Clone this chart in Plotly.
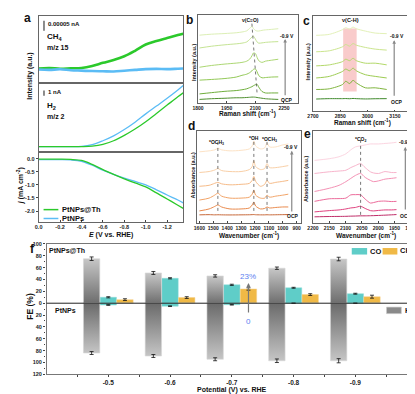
import plotly.graph_objects as go

W, H = 415, 394
FONT = "Liberation Sans, Arial, sans-serif"

# ---------------- Panel a : MS signals and LSV ----------------
E_V = [0.0, -0.1, -0.2, -0.3, -0.4, -0.5, -0.6, -0.7, -0.8, -0.9, -1.0, -1.1, -1.2, -1.3, -1.35]
ms_ch4_th = [7.3, 7.5, 7.2, 7.4, 7.6, 8.6, 10.2, 11.6, 13.5, 16.3, 19.5, 21.3, 22.8, 24.3, 25.0]
ms_ch4_pt = [6.8, 6.6, 6.9, 6.4, 6.2, 6.0, 5.9, 5.8, 6.2, 6.6, 7.0, 7.1, 7.0, 7.2, 7.3]
ms_h2_th = [0, 0, 0, 0, 0, 0.08, 0.45, 1.2, 2.3, 3.6, 5.1, 6.8, 8.5, 10.2, 11.0]
ms_h2_pt = [0, 0, 0, 0, 0.05, 0.4, 1.2, 2.2, 3.5, 5.0, 6.7, 8.3, 9.9, 11.6, 12.5]
j_th = [-0.02, -0.02, -0.02, -0.03, -0.07, -0.22, -0.42, -0.60, -0.77, -0.93, -1.08, -1.31, -1.54, -1.78, -1.90]
j_pt = [-0.04, -0.04, -0.04, -0.05, -0.10, -0.25, -0.44, -0.60, -0.74, -0.87, -1.00, -1.19, -1.39, -1.58, -1.69]
a_xticks = [0.0, -0.2, -0.4, -0.6, -0.8, -1.0, -1.2]
a_xtick_text = ["0.0", "-0.2", "-0.4", "-0.6", "-0.8", "-1.0", "-1.2"]
a_yticks = [0.0, -0.5, -1.0, -1.5, -2.0]
a_ytick_text = ["0.0", "-0.5", "-1.0", "-1.5", "-2.0"]

# ---------------- Panel b : Raman C≡O region ----------------
b_x = [1808, 1870, 1941, 2000, 2030, 2055, 2070, 2082, 2090, 2100, 2109, 2118, 2135, 2153, 2185, 2220]
b_spectra = [
    [3.3, 4, 4.5, 5, 5, 5.3, 5.5, 5.7, 5.7, 5.6, 5.3, 5, 4.5, 4, 3.6, 3.3],                      # OCP
    [9, 10.3, 11.7, 12.5, 13.3, 14.3, 15.5, 16.5, 17.5, 18.5, 19, 16, 11.5, 10, 10, 10],
    [23.3, 24, 25, 26.5, 28.3, 29.5, 31, 33, 34.5, 35, 32, 28, 25.7, 26, 26.5, 26.7],
    [36.7, 38.5, 40, 41, 41.7, 43, 45, 48.5, 51.5, 51, 47, 43.5, 41.7, 43, 44, 45],
    [56.7, 58.5, 60, 61, 61.7, 63, 65.5, 68, 69, 66, 63, 61.7, 62, 62.5, 63, 63.3],
    [70, 71, 71.7, 72.5, 73.3, 74.5, 77, 79, 77, 75, 74.3, 74.3, 75, 75.5, 76, 76.7],           # -0.9 V
]
b_colors = ["#4f8f2f", "#6fae3c", "#93c957", "#acd772", "#c5e494", "#dcefb5"]
b_xticks = [1800, 1950, 2100, 2250]

# ---------------- Panel c : Raman C-H region ----------------
c_x = [2718, 2790, 2862, 2880, 2902, 2920, 2938, 2988, 3042, 3105]
c_spectra = [
    [12.3, 12.7, 12.7, 12.8, 12.6, 12.9, 12.7, 12.4, 12.6, 12.7],                                 # OCP
    [22, 22.7, 27, 30.3, 28, 31.3, 28.7, 23.7, 23.7, 22],
    [33.7, 35.3, 40.3, 42.7, 41, 43.7, 41, 37, 35.3, 33.7],
    [46, 47, 50.3, 52.7, 51.3, 53.7, 51.3, 48.7, 48.7, 47],
    [60.3, 61.3, 65.3, 67.7, 66, 68.7, 67, 64.7, 63, 62],
    [77, 78, 82.7, 84.7, 83.3, 85.3, 83.7, 81.3, 79.3, 78.7],                                    # -0.9 V
]
c_colors = ["#3f8a2c", "#7fb53e", "#9dcc52", "#b3d96a", "#cbe58e", "#e3f1b8"]
c_xticks = [2700, 2850, 3000, 3150]
c_band = [2866, 2940]

# ---------------- Panel d : IR 1600-900 ----------------
d_x = [1600, 1530, 1490, 1467, 1440, 1380, 1300, 1240, 1220, 1208, 1195, 1160, 1130, 1113, 1095, 1050, 1000, 960]
d_spectra = [
    [8, 8.2, 8, 8.1, 8, 7.9, 8, 8.1, 8.2, 8.3, 8.1, 8, 8, 8.1, 8, 8.1, 8.2, 8.3],                # OCP
    [12, 14, 16.5, 18, 16, 14, 14, 15, 18, 21, 17, 14, 14.5, 16, 15, 15.5, 16, 16],
    [23, 25, 28, 30, 27, 25, 25, 26, 29, 33, 28, 25, 25, 28, 26, 27, 28, 29],
    [37, 38, 40, 41, 39.5, 38.5, 39, 40, 43, 47, 42, 37, 39, 43, 40, 41, 42, 43],
    [51, 52, 53.5, 55, 53, 52, 52, 54, 57, 63, 57, 54, 55, 60, 56, 56, 57, 58],
    [72, 73, 74, 75.5, 74, 73, 73.5, 75, 78, 83, 78, 75, 76, 81, 77, 77, 79, 80],                # -0.9 V
]
d_colors = ["#c8693a", "#ea8a4c", "#f2a468", "#f6bb88", "#f9cfa6", "#fde3c6"]
d_xticks = [1600, 1500, 1400, 1300, 1200, 1100, 1000, 900]
d_peaks = [1467, 1208, 1113]

# ---------------- Panel e : IR 2200-1900 ----------------
e_x = [2195, 2150, 2120, 2099, 2084, 2070, 2054, 2040, 2024, 2014, 1999, 1979, 1960, 1944]
e_spectra = [
    [6, 6.3, 6.4, 6.5, 6.7, 6.8, 7, 7, 7.1, 7.2, 7.4, 7.7, 8, 8.3],                              # OCP
    [11, 12.3, 13, 14, 15, 15.5, 16.7, 14.5, 12.3, 12, 12.5, 13, 13, 13.3],
    [21.7, 24.3, 24.5, 25, 28.3, 28.5, 28.3, 24, 20, 20.5, 21.7, 22, 21.5, 21.7],
    [31.7, 35, 38, 41.7, 45, 48, 50, 46, 43, 41.7, 42.5, 44.3, 45, 45.7],
    [50, 51.7, 52.5, 53.3, 56, 58, 60, 56, 51.7, 50.5, 50, 52, 51, 51],
    [63.3, 65, 67, 70, 74, 77, 78, 79, 80, 80, 80, 80.5, 81, 81.7],                              # -0.9 V
]
e_colors = ["#c02c68", "#e0437f", "#ec6c9b", "#f492b5", "#f8b5cc", "#fcd5e1"]
e_xticks = [2200, 2150, 2100, 2050, 2000, 1950, 1900]
e_peak = 2054

# ---------------- Panel f : Faradaic efficiencies ----------------
potentials = ["-0.5", "-0.6", "-0.7", "-0.8", "-0.9"]
fe_h2_th = [75, 51, 46, 59, 74.5]
fe_co_th = [10, 42, 31, 26, 16]
fe_ch4_th = [6, 9.5, 24, 14.5, 11]
fe_h2_pt = [84, 89, 94.5, 97, 97]
fe_co_pt = [3, 5, 2.5, 0, 0]
fe_ch4_pt = [0, 0, 0, 0, 0]
err_h2_th = [3, 2.5, 2, 2, 3]
err_co_th = [1, 1, 1, 0.8, 0.8]
err_ch4_th = [1.5, 1.5, 2, 1.5, 2.5]
err_h2_pt = [2.5, 2.5, 2.5, 3, 3.5]
err_co_pt = [0.6, 0.6, 0.6, 0, 0]
f_yticks = [-120, -100, -80, -60, -40, -20, 0, 20, 40, 60, 80, 100]

GREEN = "#2bc92b"
BLUE = "#5bbcf5"
CO_C = "#5fcdc8"
CH4_C = "#f0b946"


def fx(p):
    return p / W


def fy(p):
    return 1 - p / H


fig = go.Figure()
annotations = []
shapes = []


def txt(s, xp, yp, size=6.0, xanchor="center", yanchor="middle", color="#111", angle=0, bold=True):
    annotations.append(dict(
        text=(f"<b>{s}</b>" if bold else s), x=fx(xp), y=fy(yp), xref="paper", yref="paper",
        showarrow=False, xanchor=xanchor, yanchor=yanchor, textangle=angle, borderpad=0,
        font=dict(size=size, color=color, family=FONT)))


def frame(domain, **kw):
    d = dict(domain=domain, showline=True, mirror=True, linecolor="#666", linewidth=1,
             showgrid=False, zeroline=False, ticks="", showticklabels=False,
             tickfont=dict(size=5, family=FONT, color="#222", weight="bold"))
    d.update(kw)
    return d


# ---- panel a traces ----
for ys, col, w, xa, ya in [
    (ms_ch4_th, GREEN, 2.6, "x3", "y3"), (ms_ch4_pt, BLUE, 2.6, "x3", "y3"),
    (ms_h2_pt, BLUE, 1.3, "x2", "y2"), (ms_h2_th, GREEN, 1.3, "x2", "y2"),
    (j_pt, BLUE, 1.3, "x", "y"), (j_th, GREEN, 1.3, "x", "y"),
]:
    fig.add_trace(go.Scatter(x=E_V, y=ys, mode="lines", line=dict(color=col, width=w, shape="spline"),
                             xaxis=xa, yaxis=ya, showlegend=False))

# scale bars (in data units of each MS panel)
fig.add_trace(go.Scatter(x=[-0.05, -0.05], y=[26.5, 31.5], mode="lines", line=dict(color="#666", width=1.5),
                         xaxis="x3", yaxis="y3", showlegend=False))
fig.add_trace(go.Scatter(x=[-0.05, -0.05], y=[10.4, 11.5], mode="lines", line=dict(color="#666", width=1.5),
                         xaxis="x2", yaxis="y2", showlegend=False))


def spectra(xs, sets, colors, xa, ya):
    for ys, col in zip(sets, colors):
        fig.add_trace(go.Scatter(x=xs, y=ys, mode="lines", line=dict(color=col, width=1, shape="spline", smoothing=0.8),
                                 xaxis=xa, yaxis=ya, showlegend=False))


spectra(b_x, b_spectra, b_colors, "x4", "y4")
shapes.append(dict(type="rect", xref="x5", yref="y5", x0=c_band[0], x1=c_band[1], y0=20, y1=84,
                   fillcolor="rgba(244,160,160,0.55)", line=dict(width=0), layer="below"))
spectra(c_x, c_spectra, c_colors, "x5", "y5")
spectra(d_x, d_spectra, d_colors, "x6", "y6")
spectra(e_x, e_spectra, e_colors, "x7", "y7")

# guide lines
shapes.append(dict(type="line", xref="x4", yref="y4", x0=2082, y0=82, x1=2109, y1=10,
                   line=dict(color="#555", width=0.8, dash="dot")))
for p in d_peaks:
    shapes.append(dict(type="line", xref="x6", yref="y6", x0=p, x1=p, y0=12, y1=84,
                       line=dict(color="#555", width=0.8, dash="dot")))
shapes.append(dict(type="line", xref="x7", yref="y7", x0=e_peak, x1=e_peak, y0=8, y1=84,
                   line=dict(color="#555", width=0.8, dash="dot")))

# ---- panel f bars ----
BW = 0.265
xc = [i + 1 for i in range(5)]
x_h2 = [c - 0.27 for c in xc]
x_ch4 = [c + 0.27 for c in xc]
for xi, v in zip(x_h2, fe_h2_th):
    fig.add_trace(go.Scatter(x=[xi - BW / 2, xi + BW / 2, xi + BW / 2, xi - BW / 2, xi - BW / 2],
                             y=[0, 0, v, v, 0], mode="lines", line=dict(color="#d6d6d6", width=0.6),
                             fill="toself", fillgradient=dict(type="vertical", start=0, stop=v,
                                                              colorscale=[[0, "#6c6c6c"], [1, "#c6c6c6"]]),
                             xaxis="x8", yaxis="y8", showlegend=False, hoverinfo="skip"))
for xi, v in zip(x_h2, fe_h2_pt):
    fig.add_trace(go.Scatter(x=[xi - BW / 2, xi + BW / 2, xi + BW / 2, xi - BW / 2, xi - BW / 2],
                             y=[0, 0, -v, -v, 0], mode="lines", line=dict(color="#d6d6d6", width=0.6),
                             fill="toself", fillgradient=dict(type="vertical", start=-v, stop=0,
                                                              colorscale=[[0, "#c8c8c8"], [1, "#6c6c6c"]]),
                             xaxis="x8", yaxis="y8", showlegend=False, hoverinfo="skip"))
errstyle = dict(type="data", color="#111", thickness=0.8, width=2)
fig.add_trace(go.Scatter(x=x_h2, y=fe_h2_th, mode="markers", marker=dict(color="rgba(0,0,0,0)", size=1),
                         error_y=dict(array=err_h2_th, **errstyle), xaxis="x8", yaxis="y8", showlegend=False))
fig.add_trace(go.Scatter(x=x_h2, y=[-v for v in fe_h2_pt], mode="markers", marker=dict(color="rgba(0,0,0,0)", size=1),
                         error_y=dict(array=err_h2_pt, **errstyle), xaxis="x8", yaxis="y8", showlegend=False))
fig.add_trace(go.Bar(x=xc, y=fe_co_th, width=BW, marker=dict(color=CO_C, line=dict(color="#8fdcd8", width=0.5)),
                     error_y=dict(array=err_co_th, **errstyle), xaxis="x8", yaxis="y8", showlegend=False))
fig.add_trace(go.Bar(x=xc, y=[-v for v in fe_co_pt], width=BW, marker=dict(color=CO_C, line=dict(color="#8fdcd8", width=0.5)),
                     error_y=dict(array=err_co_pt, **errstyle), xaxis="x8", yaxis="y8", showlegend=False))
fig.add_trace(go.Bar(x=x_ch4, y=fe_ch4_th, width=BW, marker=dict(color=CH4_C, line=dict(color="#f6d08a", width=0.5)),
                     error_y=dict(array=err_ch4_th, **errstyle), xaxis="x8", yaxis="y8", showlegend=False))
fig.add_trace(go.Bar(x=x_ch4, y=[-v for v in fe_ch4_pt], width=BW, marker=dict(color=CH4_C),
                     xaxis="x8", yaxis="y8", showlegend=False))

shapes.append(dict(type="line", xref="x8 domain", yref="y8", x0=0, x1=1, y0=0, y1=0,
                   line=dict(color="#222", width=1), layer="above"))

# arrow 0 -> 23 %
annotations.append(dict(x=x_ch4[2], y=34, ax=x_ch4[2], ay=-18, xref="x8", yref="y8", axref="x8", ayref="y8",
                        showarrow=True, arrowhead=2, arrowsize=0.7, arrowwidth=1.2, arrowcolor="#777", text=""))
annotations.append(dict(x=x_ch4[2], y=45, xref="x8", yref="y8", text="23%", showarrow=False,
                        font=dict(size=8, color="#5b7ff0", family=FONT)))
annotations.append(dict(x=x_ch4[2], y=-31, xref="x8", yref="y8", text="0", showarrow=False,
                        font=dict(size=8, color="#5b7ff0", family=FONT)))

# -0.9 V / OCP arrows in b-e
for xa, ya, xv, ytop, ybot in [("x4", "y4", 2256, 66, 6), ("x5", "y5", 3146, 72, 14),
                               ("x6", "y6", 935, 73, 10), ("x7", "y7", 1917, 77, 12)]:
    annotations.append(dict(x=xv, y=ytop, ax=xv, ay=ybot, xref=xa, yref=ya, axref=xa, ayref=ya,
                            showarrow=True, arrowhead=2, arrowsize=0.6, arrowwidth=1.2, arrowcolor="#888", text=""))

# ---- axes ----
fig.update_layout(
    width=W, height=H, margin=dict(l=0, r=0, t=0, b=0), paper_bgcolor="white", plot_bgcolor="white",
    showlegend=False, barmode="overlay",
    xaxis=frame([fx(25), fx(171.7)], anchor="y", range=[0, -1.35], tickvals=a_xticks, ticktext=a_xtick_text,
                ticks="inside", ticklen=2, showticklabels=True, ticklabelstandoff=0,
                tickfont=dict(size=5.5, family=FONT, color="#222", weight="bold")),
    yaxis=frame([fy(214), fy(143)], anchor="x", range=[-2.41, 0.26], tickvals=a_yticks, ticktext=a_ytick_text,
                ticks="outside", ticklen=2, showticklabels=True,
                tickfont=dict(size=5.5, family=FONT, color="#222", weight="bold")),
    xaxis2=frame([fx(25), fx(171.7)], anchor="y2", range=[0, -1.35], linewidth=1.3),
    yaxis2=frame([fy(143), fy(73)], anchor="x2", range=[-1.07, 13.05], linewidth=1.3),
    xaxis3=frame([fx(25), fx(171.7)], anchor="y3", range=[0, -1.35], linewidth=1.3),
    yaxis3=frame([fy(73), fy(5)], anchor="x3", range=[0, 34], linewidth=1.3),
    xaxis4=frame([fx(186.7), fx(288.3)], anchor="y4", range=[1800, 2324], tickvals=b_xticks,
                 showticklabels=True, ticks="inside", ticklen=1.5),
    yaxis4=frame([fy(93), fy(4)], anchor="x4", range=[0, 91]),
    xaxis5=frame([fx(303.3), fx(405)], anchor="y5", range=[2700, 3250], tickvals=c_xticks,
                 showticklabels=True, ticks="inside", ticklen=1.5),
    yaxis5=frame([fy(101.7), fy(5)], anchor="x5", range=[0, 96.7]),
    xaxis6=frame([fx(186), fx(291.7)], anchor="y6", range=[1615, 865], tickvals=d_xticks,
                 showticklabels=True, ticks="inside", ticklen=1.5),
    yaxis6=frame([fy(215), fy(122)], anchor="x6", range=[0, 93]),
    xaxis7=frame([fx(303.3), fx(409)], anchor="y7", range=[2200, 1881], tickvals=e_xticks,
                 showticklabels=True, ticks="inside", ticklen=1.5),
    yaxis7=frame([fy(215), fy(122)], anchor="x7", range=[0, 93]),
    xaxis8=frame([fx(33), fx(409)], anchor="y8", range=[0, 6], tickvals=xc, ticktext=potentials,
                 showticklabels=True, ticks="outside", ticklen=1.5, ticklabelstandoff=0,
                 linecolor="#777", linewidth=1.2,
                 minor=dict(tickvals=[0.5 + i for i in range(6)], ticks="outside", ticklen=2, tickcolor="#444"),
                 tickfont=dict(size=6.5, family=FONT, color="#222", weight="bold")),
    yaxis8=frame([fy(369), fy(236.5)], anchor="x8", range=[-120, 100], tickvals=f_yticks,
                 ticktext=[str(abs(v)) for v in f_yticks], showticklabels=True, ticks="outside", ticklen=2.5,
                 linecolor="#777", linewidth=1.2,
                 minor=dict(dtick=10, ticks="outside", ticklen=1.5, tickcolor="#444"),
                 tickfont=dict(size=5.5, family=FONT, color="#222", weight="bold")),
)

# ---- text ----
txt("a", 14, 7, 12)
txt("b", 178, 9, 12)
txt("c", 297, 10, 12)
txt("d", 180, 117, 12)
txt("e", 298, 125, 12)
txt("f", 19, 242, 12)

txt("0.00005 nA", 33, 13.3, 6, xanchor="left")
txt("CH<sub>4</sub>", 32, 26.7, 8, xanchor="left")
txt("m/z 15", 32, 37.3, 7, xanchor="left")
txt("1 nA", 33, 82.7, 6, xanchor="left")
txt("H<sub>2</sub>", 32, 96.7, 8, xanchor="left")
txt("m/z 2", 32, 107.3, 7, xanchor="left")
txt("Intensity (a.u.)", 16, 66, 7, angle=-90)
txt("<i>j</i> (mA cm<sup>-2</sup>)", 6, 177, 7, angle=-90)
txt("<i>E</i> (V vs. RHE)", 98, 227, 7)

# panel a legend (drawn lines + labels)
for yy, col, lab in [(201.7, GREEN, "PtNPs@Th"), (210.7, BLUE, "PtNPs")]:
    shapes.append(dict(type="line", xref="paper", yref="paper", x0=fx(30), x1=fx(45), y0=fy(yy), y1=fy(yy),
                       line=dict(color=col, width=1.5)))
    txt(lab, 47.5, yy, 7.5, xanchor="left")

txt("ν(C≡O)", 240, 9, 5)
txt("-0.9 V", 277, 25.7, 5)
txt("OCP", 277, 90, 5)
txt("Intensity (a.u.)", 182.5, 52, 5.5, angle=-90)
txt("Raman shift (cm<sup>-1</sup>)", 237, 104.5, 6.5)

txt("ν(C-H)", 341.7, 9.5, 5.5)
txt("-0.9 V", 389, 25, 5)
txt("OCP", 389, 92.7, 5)
txt("Intensity (a.u.)", 298.5, 52, 5.5, angle=-90)
txt("Raman shift (cm<sup>-1</sup>)", 354, 113.3, 6.5)

txt("*OCH<sub>3</sub>", 205, 134, 5)
txt("*OH", 243.3, 128.5, 5)
txt("*OCH<sub>3</sub>", 259, 130, 5)
txt("-0.9 V", 281, 138, 5)
txt("OCP", 283, 208, 5)
txt("Absorbance (a.u.)", 181.7, 167, 5.5, angle=-90)
txt("Wavenumber (cm<sup>-1</sup>)", 238, 228.3, 6.5)

txt("*CO<sub>2</sub>", 351.7, 130, 5)
txt("-0.9 V", 398, 133, 5)
txt("OCP", 398, 208, 5)
txt("Absorbance (a.u.)", 297, 170, 5.5, angle=-90)
txt("Wavenumber (cm<sup>-1</sup>)", 356.7, 228.3, 6.5)

txt("PtNPs@Th", 35, 242.7, 7, xanchor="left")
txt("PtNPs", 40.5, 304.3, 7, xanchor="left")
txt("FE (%)", 16.5, 300, 8.5, angle=-90)
txt("Potential (V) vs. RHE", 221.5, 385, 7)

# panel f legend
for x0, x1, y0, y1, col, lab, tx in [(342.7, 358.3, 240.7, 247.3, CO_C, "CO", 360),
                                    (374, 389, 240.7, 247.3, CH4_C, "CH<sub>4</sub>", 391)]:
    shapes.append(dict(type="rect", xref="paper", yref="paper", x0=fx(x0), x1=fx(x1), y0=fy(y1), y1=fy(y0),
                       fillcolor=col, line=dict(width=0)))
    txt(lab, tx, 244, 7.5, xanchor="left")
shapes.append(dict(type="rect", xref="paper", yref="paper", x0=fx(378), x1=fx(393), y0=fy(307.3), y1=fy(300.7),
                   fillcolor="#8a8a8a", line=dict(color="#c8c8c8", width=0.6)))
txt("H<sub>2</sub>", 396, 305, 7.5, xanchor="left")

fig.update_layout(annotations=annotations, shapes=shapes)
fig.write_html("out.html")
